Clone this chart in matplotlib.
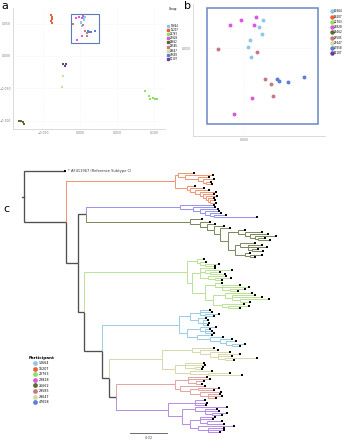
import matplotlib.pyplot as plt
from matplotlib.collections import LineCollection
from matplotlib.patches import Rectangle
from matplotlib.lines import Line2D

# ---------------- data ----------------
groups = ["13664", "16207", "22763", "23828", "26662", "29585", "29647", "47658", "51107"]
group_colors = ["#8ec8e8", "#e8603c", "#8ee060", "#d85ad8", "#556b2f",
                "#c87880", "#d4dc9c", "#5b7fd6", "#6a3d9a"]

pc1 = {
    "13664": [0.0065, 0.0051, 0.0061, 0.0020, 0.0013, 0.0023],
    "16207": [-0.039, -0.038, -0.038, -0.039, -0.038],
    "22763": [0.088, 0.093, 0.095, 0.099, 0.101, 0.104],
    "23828": [0.0041, -0.0011, -0.0048, 0.0034, 0.0027, -0.0035],
    "26662": [-0.082, -0.080, -0.077, -0.076],
    "29585": [-0.0089, 0.0044, 0.0071, 0.0092, 0.0099],
    "29647": [-0.023, -0.024],
    "47658": [0.0112, 0.0119, 0.0150, 0.0205],
    "51107": [-0.023, -0.020, -0.019],
}
pc2 = {
    "13664": [0.0608, 0.0581, 0.0554, 0.0531, 0.0504, 0.0465],
    "16207": [0.063, 0.060, 0.057, 0.054, 0.051],
    "22763": [-0.054, -0.062, -0.067, -0.065, -0.067, -0.067],
    "23828": [0.0620, 0.0608, 0.0589, 0.0589, 0.0306, 0.0244],
    "26662": [-0.101, -0.101, -0.102, -0.105],
    "29585": [0.0496, 0.0484, 0.0380, 0.0360, 0.0314],
    "29647": [-0.031, -0.048],
    "47658": [0.0380, 0.0372, 0.0368, 0.0387],
    "51107": [-0.012, -0.016, -0.012],
}
zoom_box = (-0.0127, 0.0205, 0.0253, 0.0655)  # x0, y0, x1, y1

# tree: branch lengths in substitutions/site x 1000
BACKBONE = ("(REF:22.2,(ORANGE:58.9,((BLUE:50.8,OLIVE:56.2):4.3,(GREEN:55.6,"
            "(LIGHTBLUE:41.6,(PALE:28.6,(ROSE:31.9,PURPLE:28.1):3.8):3.8):9.7):3.2):6.5):22.7)")
ORANGE = ("((:8.6,(:15.1,(:5.9,(:5.9,(:2.7,:3.2):1.6):2.7):7):3.8):1.6,"
          "(:4.3,(:7.6,(:7.6,(:8.6,(:5.9,(:5.9,(:3.2,(:2.7,:3.2):1.1):1.1):1.6):1.6):2.7):2.7):1.6):6.5)")
BLUE = "(:18.4,(:11.9,(:9.7,(:7.6,(:5.9,(:6.5,:23.2):2.2):2.7):2.7):3.8):7)"
OLIVE = ("(:6.5,(:5.4,(:4.3,(:5.4,(:5.4,((:3.8,(:9.2,(:9.7,(:11.3,(:3.8,:6.5):1.6):2.7):2.7):3.8):5.4,"
         "((:8.1,(:7.6,:10.3,(:3.2,:5.9):2.2):4.3):2.7,(:2.7,(:6.5,:2.7):2.7):5.4):3.8):4.3):3.2):3.8):3.8):5.4)")
GREEN = ("((:3.8,(:3.2,(:7.6,:5.4):2.7):1.6):5.4,((:8.1,(:14.6,(:5.4,:8.1):2.7):2.7,"
         "(:9.7,(:8.6,:3.8):3.8):4.3):4.3,((:3.8,(:9.7,:14.6,(:8.1,:4.3):4.3):3.8):5.4,"
         "((:14.6,(:12.4,:16.2,(:15.7,:5.4):4.3):3.8):6.5,(:11.9,(:11.3,:6.5):3.2):4.9):4.3):7):2.7)")
LIGHTBLUE = ("(((:5.4,:6.5,(:7.6,:4.9):2.7):5.4,(:4.3,(:2.7,:3.2,:2.7):2.7):4.3):5.9,"
             "((:8.6,(:2.7,:3.8,:4.9):2.7):7,(:8.1,(:7,(:6.5,(:5.4,(:7,:4.3):3.2):3.2):5.4):7):5.4):4.3)")
PALE = ("((:11.9,(:9.7,(:10.8,(:11.9,:7.6,(:17.3,:4.9):3.8):4.3):5.4):4.3):16.2,"
        "((:10.3,:10.8,(:4.3,:3.8):5.4):5.4,(:11.9,(:11.9,:18.4):9.7):8.1):7)")
ROSE = "((:10.3,:11.9,(:4.3,:3.2):4.3):7,(:13.5,((:11.3,:8.6):4.3,(:11.3,(:6.5,:7.6,:4.3):4.3):5.4):5.4):2.7)"
PURPLE = ("((:5.4,:6.5,:5.9):14.6,((:17.3,(:6.5,:7.6,(:8.1,:5.4):3.8):5.4):7,"
          "((:8.1,:7,(:8.1,:9.2):3.8):5.4,(:19.4,(:8.6,:8.6,:6.5):5.4):4.3):4.3):7.6)")

clades = {
    "ORANGE": (ORANGE, "#f28c68"),
    "BLUE": (BLUE, "#8c8cf0"),
    "OLIVE": (OLIVE, "#6f8050"),
    "GREEN": (GREEN, "#b4e08c"),
    "LIGHTBLUE": (LIGHTBLUE, "#92c8e6"),
    "PALE": (PALE, "#d6d6a6"),
    "ROSE": (ROSE, "#e49c9c"),
    "PURPLE": (PURPLE, "#b084e6"),
}
participants = groups[:8]
ref_label = "AF411967 (Reference Subtype C)"
scale_len = 20  # 0.02
backbone_col = "#505050"


def parse(s):
    pos = 0

    def node():
        nonlocal pos
        kids = []
        if s[pos] == "(":
            pos += 1
            kids.append(node())
            while s[pos] == ",":
                pos += 1
                kids.append(node())
            pos += 1
        name = ""
        while pos < len(s) and s[pos] not in ":,()":
            name += s[pos]
            pos += 1
        length = 0.0
        if pos < len(s) and s[pos] == ":":
            pos += 1
            st = pos
            while pos < len(s) and s[pos] not in ",()":
                pos += 1
            length = float(s[st:pos])
        return {"name": name, "len": length, "kids": kids, "col": backbone_col}
    return node()


def colorize(n, c):
    n["col"] = c
    for k in n["kids"]:
        colorize(k, c)


def attach(n):
    if n["name"] in clades:
        txt, c = clades[n["name"]]
        sub = parse(txt)
        sub["len"] = n["len"]
        colorize(sub, c)
        return sub
    n["kids"] = [attach(k) for k in n["kids"]]
    return n


tree = attach(parse(BACKBONE))

leaf_i = [0]


def layout(n, x):
    n["x"] = x + n["len"]
    if not n["kids"]:
        n["y"] = leaf_i[0]
        leaf_i[0] += 1
    else:
        for k in n["kids"]:
            layout(k, n["x"])
        n["y"] = (n["kids"][0]["y"] + n["kids"][-1]["y"]) / 2


tree["len"] = 0
layout(tree, 0)

segs, cols, lws, tips = [], [], [], []


def collect(n):
    for k in n["kids"]:
        segs.append([(n["x"], n["y"]), (n["x"], k["y"]), (k["x"], k["y"])])
        cols.append(k["col"])
        lws.append(0.95 if k["col"] == backbone_col else 0.65)
        collect(k)
    if not n["kids"]:
        tips.append(n)


collect(tree)

# ---------------- figure ----------------
W, H = 344, 440
fig = plt.figure(figsize=(W / 100, H / 100), dpi=100)


def style(ax):
    for s in ["top", "right"]:
        ax.spines[s].set_visible(False)
    for s in ["left", "bottom"]:
        ax.spines[s].set_color("#d5d5d5")
        ax.spines[s].set_linewidth(0.6)
    ax.tick_params(length=0, labelsize=2.2, labelcolor="#777777", pad=1.5)
    ax.grid(True, color="#eeeeee", lw=0.4, ls=":")
    ax.set_axisbelow(True)


# panel a
ax_a = fig.add_axes([13 / W, 1 - 129 / H, 152 / W, 121 / H])
for g, c in zip(groups, group_colors):
    ax_a.scatter(pc1[g], pc2[g], s=2.2, color=c, marker="s", linewidths=0)
ax_a.add_patch(Rectangle((zoom_box[0], zoom_box[1]), zoom_box[2] - zoom_box[0],
                         zoom_box[3] - zoom_box[1], fill=False, ec="#5b7bbd", lw=0.8))
ax_a.set_xlim(-0.0905, 0.115)
ax_a.set_ylim(-0.113, 0.0743)
ax_a.set_xticks([-0.05, 0.0, 0.05, 0.10])
ax_a.set_yticks([-0.10, -0.05, 0.0, 0.05])
ax_a.xaxis.set_major_formatter("{x:.3f}")
ax_a.yaxis.set_major_formatter("{x:.3f}")
style(ax_a)

h_a = [Line2D([], [], marker="s", ls="", color=c, markersize=1.6) for c in group_colors]
leg_a = fig.legend(h_a, groups, loc="upper left", bbox_to_anchor=(166 / W, 1 - 6 / H), frameon=False,
                   fontsize=1.8, title="Group", title_fontsize=2, handlelength=0.8, handletextpad=0.4,
                   handleheight=0.5, labelspacing=0.05, borderpad=0)
leg_a._legend_box.sep = 9

# panel b
ax_b = fig.add_axes([193 / W, 1 - 136 / H, 132 / W, 132 / H])
for g, c in zip(groups, group_colors):
    ax_b.scatter(pc1[g], pc2[g], s=8, color=c, linewidths=0)
ax_b.add_patch(Rectangle((zoom_box[0], zoom_box[1]), zoom_box[2] - zoom_box[0],
                         zoom_box[3] - zoom_box[1], fill=False, ec="#6a86c4", lw=1.1))
ax_b.set_xlim(-0.0175, 0.0277)
ax_b.set_ylim(0.0158, 0.0671)
ax_b.set_xticks([0.0])
ax_b.set_yticks([0.05])
ax_b.xaxis.set_major_formatter("{x:.3f}")
ax_b.yaxis.set_major_formatter("{x:.3f}")
style(ax_b)

h_b = [Line2D([], [], marker="o", ls="", color=c, markersize=2.2) for c in group_colors]
fig.legend(h_b, groups, loc="upper left", bbox_to_anchor=(329 / W, 1 - 8 / H), frameon=False,
           fontsize=2, handlelength=0.8, handletextpad=0.4, labelspacing=0.45, borderpad=0)

# panel c
ax_c = fig.add_axes([0, 0, 1, 290 / H])
ax_c.add_collection(LineCollection(segs, colors=cols, linewidths=lws, capstyle="butt",
                                   joinstyle="miter"))
ax_c.plot([tree["x"] - 1.1, tree["x"]], [tree["y"], tree["y"]], color=backbone_col, lw=0.95)
ax_c.scatter([t["x"] for t in tips], [t["y"] for t in tips], s=1.4, marker="s",
             color="black", linewidths=0, zorder=3)
ref = tips[0]
ax_c.text(ref["x"] + 1.5, ref["y"], "* " + ref_label, fontsize=2.6, va="center", color="#333333")
n_leaf = leaf_i[0]
sp = 261 / (n_leaf - 1)
ax_c.set_xlim(-24 / 1.85, 320 / 1.85)
ax_c.set_ylim((n_leaf - 1) + 8 / sp, -21 / sp)
ax_c.axis("off")

sb_y = (433 - 171) / sp
sb_x = (130 - 24) / 1.85
ax_c.plot([sb_x, sb_x + scale_len], [sb_y, sb_y], color="#555555", lw=0.6)
ax_c.text(sb_x + scale_len / 2, (437.5 - 171) / sp, "0.02", fontsize=2.6, ha="center",
          va="center", color="#555555")

h_c = [Line2D([], [], marker="o", ls="", color=c, markersize=2.4) for c in group_colors[:8]]
leg_c = fig.legend(h_c, participants, loc="upper left", bbox_to_anchor=(27 / W, 1 - 354 / H),
                   frameon=False, fontsize=2.3, title="Participant", title_fontsize=3,
                   handlelength=0.8, handletextpad=0.5, labelspacing=0.5, borderpad=0)
leg_c.get_title().set_fontweight("bold")

fig.text(1 / W, 1 - 1 / H, "a", fontsize=8, va="top", ha="left")
fig.text(184 / W, 1 - 1 / H, "b", fontsize=8, va="top", ha="left")
fig.text(3 / W, 1 - 204 / H, "c", fontsize=8, va="top", ha="left")

fig.savefig("out.png", dpi=100)
